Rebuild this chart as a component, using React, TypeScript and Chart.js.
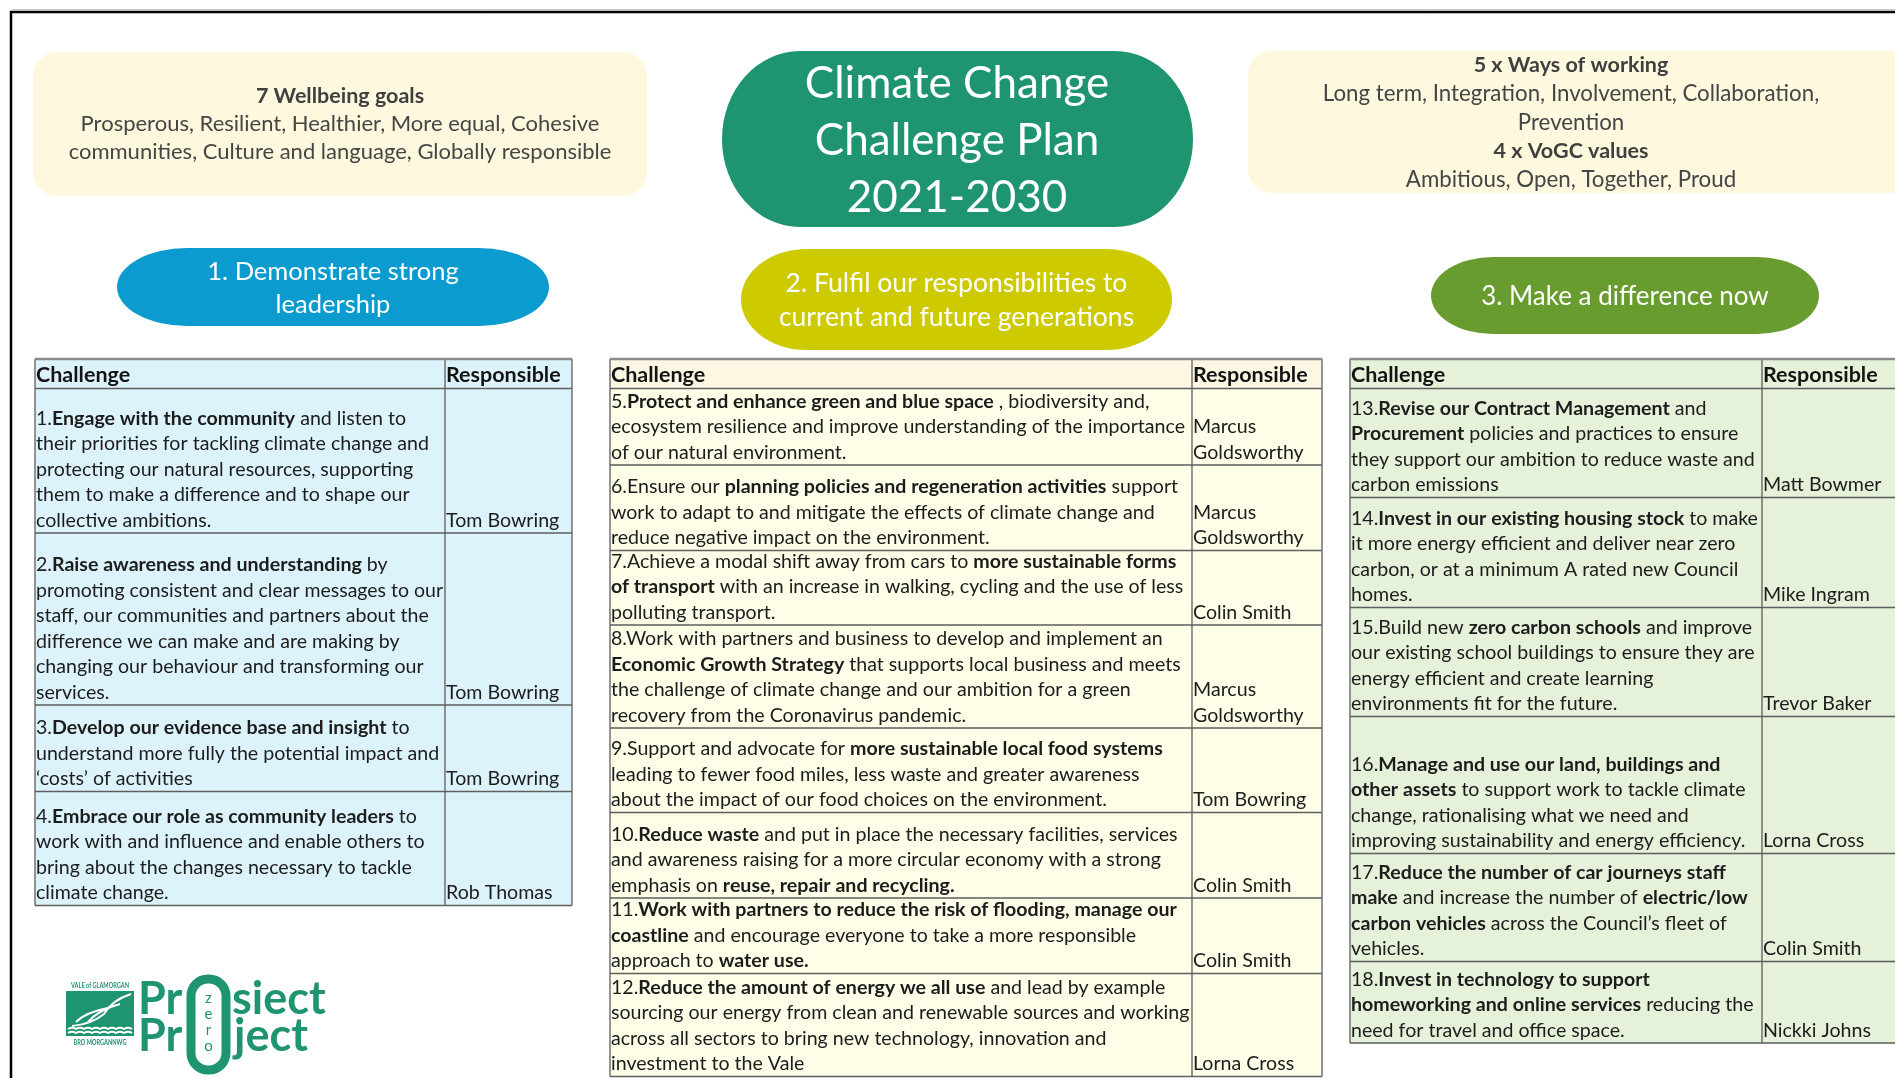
import React, { useEffect, useRef } from "react";
import { Chart, registerables } from "chart.js";

Chart.register(...registerables);

const W = 1895;
const H = 1078;

// ---------- content ----------
const wellbeingTitle = "7 Wellbeing goals";
const wellbeingLines = [
  "Prosperous, Resilient, Healthier, More equal, Cohesive",
  "communities, Culture and language, Globally responsible",
];
const waysTitle = "5 x Ways of working";
const waysLines = ["Long term, Integration, Involvement, Collaboration,", "Prevention"];
const valuesTitle = "4 x VoGC values";
const valuesLines = ["Ambitious, Open, Together, Proud"];
const titleLines = ["Climate Change", "Challenge Plan", "2021-2030"];
const themeLabels = [
  ["1. Demonstrate strong", "leadership"],
  ["2. Fulfil our responsibilities to", "current and future generations"],
  ["3. Make a difference now"],
];
const tableHeaders = ["Challenge", "Responsible"];

const leftChallenges = [
  [
    "1.**Engage with the community** and listen to",
    "their priorities for tackling climate change and",
    "protecting our natural resources, supporting",
    "them to make a difference and to shape our",
    "collective ambitions.",
  ],
  [
    "2.**Raise awareness and understanding** by",
    "promoting consistent and clear messages to our",
    "staff, our communities and partners about the",
    "difference we can make and are making by",
    "changing our behaviour and transforming our",
    "services.",
  ],
  [
    "3.**Develop our evidence base and insight** to",
    "understand more fully the potential impact and",
    "\u2018costs\u2019 of activities",
  ],
  [
    "4.**Embrace our role as community leaders** to",
    "work with and influence and enable others to",
    "bring about the changes necessary to tackle",
    "climate change.",
  ],
];
const leftResponsible = [["Tom Bowring"], ["Tom Bowring"], ["Tom Bowring"], ["Rob Thomas"]];

const middleChallenges = [
  [
    "5.**Protect and enhance green and blue space** , biodiversity and,",
    "ecosystem resilience and improve understanding of the importance",
    "of our natural environment.",
  ],
  [
    "6.Ensure our **planning policies and regeneration activities** support",
    "work to adapt to and mitigate the effects of climate change and",
    "reduce negative impact on the environment.",
  ],
  [
    "7.Achieve a modal shift away from cars to **more sustainable forms**",
    "**of transport** with an increase in walking, cycling and the use of less",
    "polluting transport.",
  ],
  [
    "8.Work with partners and business to develop and implement an",
    "**Economic Growth Strategy** that supports local business and meets",
    "the challenge of climate change and our ambition for a green",
    "recovery from the Coronavirus pandemic.",
  ],
  [
    "9.Support and advocate for **more sustainable local food systems**",
    "leading to fewer food miles, less waste and greater awareness",
    "about the impact of our food choices on the environment.",
  ],
  [
    "10.**Reduce waste** and put in place the necessary facilities, services",
    "and awareness raising for a more circular economy with a strong",
    "emphasis on **reuse, repair and recycling.**",
  ],
  [
    "11.**Work with partners to reduce the risk of flooding, manage our**",
    "**coastline** and encourage everyone to take a more responsible",
    "approach to **water use.**",
  ],
  [
    "12.**Reduce the amount of energy we all use** and lead by example",
    "sourcing our energy from clean and renewable sources and working",
    "across all sectors to bring new technology, innovation and",
    "investment to the Vale",
  ],
];
const middleResponsible = [
  ["Marcus", "Goldsworthy"],
  ["Marcus", "Goldsworthy"],
  ["Colin Smith"],
  ["Marcus", "Goldsworthy"],
  ["Tom Bowring"],
  ["Colin Smith"],
  ["Colin Smith"],
  ["Lorna Cross"],
];

const rightChallenges = [
  [
    "13.**Revise our Contract Management** and",
    "**Procurement** policies and practices to ensure",
    "they support our ambition to reduce waste and",
    "carbon emissions",
  ],
  [
    "14.**Invest in our existing housing stock** to make",
    "it more energy efficient and deliver near zero",
    "carbon, or at a minimum A rated new Council",
    "homes.",
  ],
  [
    "15.Build new **zero carbon schools** and improve",
    "our existing school buildings to ensure they are",
    "energy efficient and create learning",
    "environments fit for the future.",
  ],
  [
    "16.**Manage and use our land, buildings and**",
    "**other assets** to support work to tackle climate",
    "change, rationalising what we need and",
    "improving sustainability and energy efficiency.",
  ],
  [
    "17.**Reduce the number of car journeys staff**",
    "**make** and increase the number of **electric/low**",
    "**carbon vehicles** across the Council\u2019s fleet of",
    "vehicles.",
  ],
  [
    "18.**Invest in technology to support**",
    "**homeworking and online services** reducing the",
    "need for travel and office space.",
  ],
];
const rightResponsible = [
  ["Matt Bowmer"],
  ["Mike Ingram"],
  ["Trevor Baker"],
  ["Lorna Cross"],
  ["Colin Smith"],
  ["Nickki Johns"],
];

const logoWords = ["Pr", "siect", "Pr", "ject"];
const logoZero = ["z", "e", "r", "o"];
const logoCouncil = ["VALE of GLAMORGAN", "BRO MORGANNWG"];

// ---------- layout / style ----------
const FONT = "Lato, 'Open Sans', sans-serif";
const LINE_H = 25.5;
const BOTTOM_PAD = 12.5;
const TABLE_TOP = 359;
const HEADER_BOTTOM = 388.5;
const TABLE_FONT = 19.6;
const HEADER_FONT = 21.5;

const tableLayouts = [
  { x0: 35, xDiv: 445, x1: 572, pads: [30, 32, 23, 25], bg: "#DDF3FB", headBg: "#DDF3FB" },
  { x0: 610, xDiv: 1192, x1: 1322, pads: [13, 22, 11, 14, 21, 22, 12, 14], bg: "#FEFDE8", headBg: "#FDF6E3" },
  { x0: 1350, xDiv: 1762, x1: 1905, pads: [20, 21, 20, 48, 19, 18], bg: "#E5F1D9", headBg: "#E5F1D9" },
];
const tableData = [
  { challenges: leftChallenges, responsible: leftResponsible },
  { challenges: middleChallenges, responsible: middleResponsible },
  { challenges: rightChallenges, responsible: rightResponsible },
];

const themeShapes = [
  { x: 117, y: 248, w: 432, h: 78, rx: 70, color: "#0B9BCF", ys: [272, 305], size: 25.5 },
  { x: 741, y: 249, w: 431, h: 101, rx: 66, color: "#CDCA00", ys: [283, 317], size: 26.5 },
  { x: 1431, y: 257, w: 388, h: 77, rx: 62, color: "#699C2F", ys: [296], size: 26 },
];

function drawRich(
  ctx: CanvasRenderingContext2D,
  line: string,
  x: number,
  y: number,
  size: number,
  color: string,
  maxW?: number,
  align: "left" | "center" = "left",
  forceBold = false
) {
  const segs = line.split("**");
  let total = 0;
  const widths: number[] = [];
  segs.forEach((s, i) => {
    ctx.font = `${i % 2 || forceBold ? "bold " : ""}${size}px ${FONT}`;
    const w = ctx.measureText(s).width;
    widths.push(w);
    total += w;
  });
  const sx = maxW && total > maxW ? maxW / total : 1;
  ctx.save();
  const startX = align === "center" ? x - (total * sx) / 2 : x;
  ctx.translate(startX, y + size * 0.33);
  ctx.scale(sx, 1);
  ctx.fillStyle = color;
  ctx.textAlign = "left";
  ctx.textBaseline = "alphabetic";
  let cx = 0;
  segs.forEach((s, i) => {
    ctx.font = `${i % 2 || forceBold ? "bold " : ""}${size}px ${FONT}`;
    ctx.fillText(s, cx, 0);
    cx += widths[i];
  });
  ctx.restore();
}

function pillPath(ctx: CanvasRenderingContext2D, x: number, y: number, w: number, h: number, rx: number) {
  const ry = h / 2;
  ctx.beginPath();
  ctx.moveTo(x + rx, y);
  ctx.lineTo(x + w - rx, y);
  ctx.ellipse(x + w - rx, y + ry, rx, ry, 0, -Math.PI / 2, Math.PI / 2);
  ctx.lineTo(x + rx, y + h);
  ctx.ellipse(x + rx, y + ry, rx, ry, 0, Math.PI / 2, Math.PI * 1.5);
  ctx.closePath();
}

function roundRectPath(ctx: CanvasRenderingContext2D, x: number, y: number, w: number, h: number, r: number) {
  ctx.beginPath();
  ctx.moveTo(x + r, y);
  ctx.arcTo(x + w, y, x + w, y + h, r);
  ctx.arcTo(x + w, y + h, x, y + h, r);
  ctx.arcTo(x, y + h, x, y, r);
  ctx.arcTo(x, y, x + w, y, r);
  ctx.closePath();
}

const infographicPlugin = {
  id: "infographic",
  afterDraw(chart: any) {
    const ctx: CanvasRenderingContext2D = chart.ctx;
    const sx = chart.scales.x;
    const sy = chart.scales.y;
    const X = (v: number) => sx.getPixelForValue(v);
    const Y = (v: number) => sy.getPixelForValue(v);

    ctx.save();
    ctx.fillStyle = "#ffffff";
    ctx.fillRect(X(0), Y(0), X(W) - X(0), Y(H) - Y(0));

    // page frame
    ctx.strokeStyle = "#c8c8c8";
    ctx.lineWidth = 1;
    ctx.beginPath();
    ctx.moveTo(X(12), Y(9.5));
    ctx.lineTo(X(W), Y(9.5));
    ctx.stroke();
    ctx.strokeStyle = "#000000";
    ctx.lineWidth = 2.5;
    ctx.beginPath();
    ctx.moveTo(X(W), Y(12));
    ctx.lineTo(X(11), Y(12));
    ctx.lineTo(X(11), Y(H));
    ctx.stroke();

    // top-left box
    ctx.fillStyle = "#FEF8DF";
    roundRectPath(ctx, X(33), Y(52), X(647) - X(33), Y(196) - Y(52), 24);
    ctx.fill();
    drawRich(ctx, wellbeingTitle, X(340), Y(96), 21.5, "#3f3f3f", undefined, "center", true);
    wellbeingLines.forEach((l, i) => drawRich(ctx, l, X(340), Y(124 + i * 28), 22, "#454545", undefined, "center"));

    // top-right box
    ctx.fillStyle = "#FEF8DF";
    roundRectPath(ctx, X(1248), Y(51), X(1935) - X(1248), Y(193) - Y(51), 24);
    ctx.fill();
    const cxR = X(1571);
    drawRich(ctx, waysTitle, cxR, Y(65), 21.5, "#3f3f3f", undefined, "center", true);
    waysLines.forEach((l, i) => drawRich(ctx, l, cxR, Y(94 + i * 28.5), 22.3, "#454545", undefined, "center"));
    drawRich(ctx, valuesTitle, cxR, Y(151), 21.5, "#3f3f3f", undefined, "center", true);
    valuesLines.forEach((l, i) => drawRich(ctx, l, cxR, Y(180 + i * 28.5), 22.3, "#454545", undefined, "center"));

    // title pill
    ctx.fillStyle = "#1F9471";
    pillPath(ctx, X(722), Y(51), X(1193) - X(722), Y(227) - Y(51), 78);
    ctx.fill();
    titleLines.forEach((l, i) => drawRich(ctx, l, X(957), Y(83 + i * 57), 44, "#ffffff", undefined, "center"));

    // theme ovals
    themeShapes.forEach((s, i) => {
      ctx.fillStyle = s.color;
      pillPath(ctx, X(s.x), Y(s.y), X(s.x + s.w) - X(s.x), Y(s.y + s.h) - Y(s.y), s.rx);
      ctx.fill();
      themeLabels[i].forEach((l, j) => drawRich(ctx, l, X(s.x + s.w / 2), Y(s.ys[j]), s.size, "#ffffff", undefined, "center"));
    });

    // tables
    tableLayouts.forEach((t, ti) => {
      const data = tableData[ti];
      const rowTops: number[] = [];
      let top = HEADER_BOTTOM;
      data.challenges.forEach((lines, ri) => {
        rowTops.push(top);
        top += t.pads[ri] + (lines.length - 1) * LINE_H + BOTTOM_PAD;
      });
      const bottom = top;
      ctx.fillStyle = t.bg;
      ctx.fillRect(X(t.x0), Y(TABLE_TOP), X(t.x1) - X(t.x0), Y(bottom) - Y(TABLE_TOP));
      ctx.fillStyle = t.headBg;
      ctx.fillRect(X(t.x0), Y(TABLE_TOP), X(t.x1) - X(t.x0), Y(HEADER_BOTTOM) - Y(TABLE_TOP));
      drawRich(ctx, tableHeaders[0], X(t.x0 + 1), Y(374.5), HEADER_FONT, "#141414", undefined, "left", true);
      drawRich(ctx, tableHeaders[1], X(t.xDiv + 1), Y(374.5), HEADER_FONT, "#141414", X(t.x1) - X(t.xDiv) - 2, "left", true);
      data.challenges.forEach((lines, ri) => {
        const first = rowTops[ri] + t.pads[ri];
        lines.forEach((l, li) => {
          drawRich(ctx, l, X(t.x0 + 1), Y(first + li * LINE_H), TABLE_FONT, "#1c1c1c", X(t.xDiv) - X(t.x0) - 3);
        });
        const resp = data.responsible[ri];
        const lastIdx = lines.length - 1;
        resp.forEach((r, k) => {
          const li = lastIdx - (resp.length - 1 - k);
          drawRich(ctx, r, X(t.xDiv + 1), Y(first + li * LINE_H), TABLE_FONT, "#1c1c1c", X(t.x1) - X(t.xDiv) - 3);
        });
      });
      ctx.strokeStyle = "#5e5e5e";
      ctx.lineWidth = 1.3;
      ctx.beginPath();
      [HEADER_BOTTOM, ...rowTops.slice(1), bottom].forEach((yy) => {
        ctx.moveTo(X(t.x0), Y(yy));
        ctx.lineTo(X(t.x1), Y(yy));
      });
      [t.x0, t.xDiv, t.x1].forEach((xx) => {
        ctx.moveTo(X(xx), Y(TABLE_TOP));
        ctx.lineTo(X(xx), Y(bottom));
      });
      ctx.stroke();
      ctx.strokeStyle = "#8a8a8a";
      ctx.lineWidth = 2.5;
      ctx.beginPath();
      ctx.moveTo(X(t.x0), Y(TABLE_TOP));
      ctx.lineTo(X(t.x1), Y(TABLE_TOP));
      ctx.stroke();
    });

    // logo
    const g = "#1E9470";
    ctx.fillStyle = g;
    ctx.textAlign = "center";
    ctx.textBaseline = "alphabetic";
    ctx.font = `bold 7px ${FONT}`;
    ctx.save();
    ctx.translate(X(100), Y(988));
    ctx.scale(0.8, 1);
    ctx.fillText(logoCouncil[0], 0, 0);
    ctx.restore();
    ctx.save();
    ctx.translate(X(100), Y(1045));
    ctx.scale(0.8, 1);
    ctx.fillText(logoCouncil[1], 0, 0);
    ctx.restore();
    ctx.beginPath();
    ctx.moveTo(X(66), Y(991));
    ctx.lineTo(X(134), Y(991));
    ctx.lineTo(X(134), Y(1036));
    ctx.lineTo(X(66), Y(1036));
    ctx.closePath();
    ctx.fill();
    ctx.strokeStyle = "#ffffff";
    ctx.lineWidth = 2;
    ctx.beginPath();
    ctx.moveTo(X(131), Y(994));
    ctx.quadraticCurveTo(X(112), Y(1000), X(104), Y(1014));
    ctx.quadraticCurveTo(X(92), Y(1024), X(72), Y(1026));
    ctx.moveTo(X(120), Y(1004));
    ctx.quadraticCurveTo(X(98), Y(1010), X(88), Y(1022));
    ctx.moveTo(X(108), Y(1008));
    ctx.quadraticCurveTo(X(86), Y(1012), X(76), Y(1022));
    ctx.stroke();
    ctx.beginPath();
    for (let k = 0; k < 2; k++) {
      const yy = 1029 + k * 4;
      ctx.moveTo(X(68), Y(yy));
      for (let xx = 68; xx <= 128; xx += 8) {
        ctx.quadraticCurveTo(X(xx + 4), Y(yy - 2.5), X(xx + 8), Y(yy));
      }
    }
    ctx.stroke();
    ctx.fillStyle = g;
    ctx.textAlign = "left";
    ctx.font = `bold 45px ${FONT}`;
    ctx.fillText(logoWords[0], X(138), Y(1014));
    ctx.fillText(logoWords[1], X(232), Y(1014));
    ctx.fillText(logoWords[2], X(138), Y(1051));
    ctx.fillText(logoWords[3], X(234), Y(1051));
    ctx.strokeStyle = g;
    ctx.lineWidth = 9;
    roundRectPath(ctx, X(191), Y(979), X(226) - X(191), Y(1070) - Y(979), 17);
    ctx.stroke();
    ctx.textAlign = "center";
    ctx.font = `15px ${FONT}`;
    logoZero.forEach((c, i) => ctx.fillText(c, X(208.5), Y(1003 + i * 16)));

    ctx.restore();
  },
};

export default function App() {
  const ref = useRef<HTMLCanvasElement>(null);
  useEffect(() => {
    document.body.style.margin = "0";
    const canvas = ref.current;
    if (!canvas) return;
    const chart = new Chart(canvas, {
      type: "scatter",
      data: { datasets: [] },
      options: {
        responsive: false,
        animation: false,
        devicePixelRatio: 1,
        events: [],
        layout: { padding: 0 },
        plugins: { legend: { display: false }, tooltip: { enabled: false }, title: { display: false } },
        scales: {
          x: { type: "linear", min: 0, max: W, display: false },
          y: { type: "linear", min: 0, max: H, reverse: true, display: false },
        },
      },
      plugins: [infographicPlugin],
    } as any);
    return () => chart.destroy();
  }, []);
  return <canvas ref={ref} width={W} height={H} style={{ display: "block" }} />;
}
